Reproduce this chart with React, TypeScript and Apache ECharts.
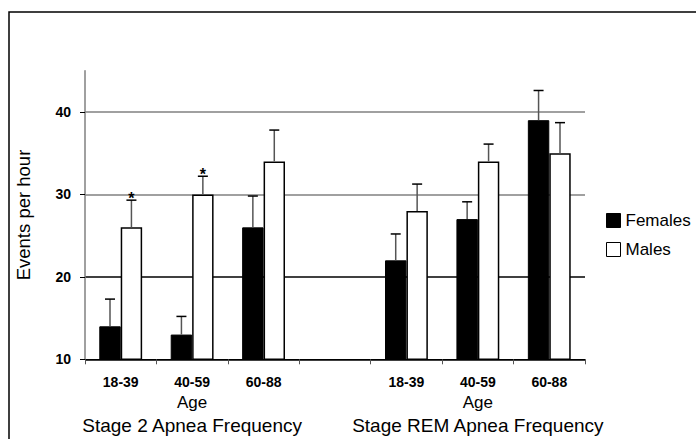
import React, { useEffect, useRef } from "react";
import * as echarts from "echarts";

const categories = ["18-39", "40-59", "60-88", "", "18-39", "40-59", "60-88"];
const femaleValues = [14, 13, 26, null, 22, 27, 39];
const femaleErrors = [3.3, 2.2, 3.8, null, 3.2, 2.1, 3.6];
const maleValues = [26, 30, 34, null, 28, 34, 35];
const maleErrors = [3.3, 2.2, 3.8, null, 3.25, 2.1, 3.7];
const maleStars = ["*", "*", "", "", "", "", ""];
const femaleStars = ["", "", "", "", "", "", ""];
const groupTitles: Record<number, string> = { 1: "Stage 2 Apnea Frequency", 5: "Stage REM Apnea Frequency" };
const axisTitle = "Age";
const yTicks = [10, 20, 30, 40];

const FONT = "'Liberation Sans', Arial, Helvetica, sans-serif";

function errorSeries(name: string, values: (number | null)[], errs: (number | null)[], stars: string[], sign: number) {
  const data: number[][] = [];
  values.forEach((v, i) => {
    if (v != null && errs[i] != null) data.push([i, v, errs[i] as number]);
  });
  return {
    type: "custom",
    name,
    data,
    z: 5,
    silent: true,
    encode: { x: 0, y: 1 },
    renderItem: (params: any, api: any) => {
      const i = api.value(0);
      const v = api.value(1);
      const e = api.value(2);
      const base = api.coord([i, v]);
      const top = api.coord([i, v + e]);
      const band = api.size([1, 0])[0];
      const x = base[0] + sign * band * 0.15;
      const star = stars[i];
      const children: any[] = [
        { type: "line", shape: { x1: x, y1: base[1], x2: x, y2: top[1] }, style: { stroke: "#555", lineWidth: 1.5 } },
        { type: "line", shape: { x1: x - 5, y1: top[1], x2: x + 5, y2: top[1] }, style: { stroke: "#000", lineWidth: 1.5 } },
      ];
      if (star) {
        children.push({
          type: "text",
          style: { text: star, x, y: top[1] - 2, align: "center", verticalAlign: "middle", fontSize: 16, fontWeight: "bold", fontFamily: FONT, fill: "#000" },
        });
      }
      return { type: "group", children };
    },
  };
}

export default function App() {
  const ref = useRef<HTMLDivElement>(null);
  useEffect(() => {
    if (!ref.current) return;
    const chart = echarts.init(ref.current, null, { renderer: "svg" });
    chart.setOption({
      animation: false,
      backgroundColor: "#fff",
      textStyle: { fontFamily: FONT },
      grid: { left: 85, right: 111, top: 70.7, bottom: 79.7, containLabel: false },
      legend: {
        data: ["Females", "Males"],
        orient: "vertical",
        left: 606,
        top: 212,
        padding: 0,
        itemWidth: 14,
        itemHeight: 14,
        itemGap: 12,
        itemStyle: { borderWidth: 1 },
        icon: "rect",
        textStyle: { fontSize: 17, color: "#000", fontFamily: FONT },
      },
      graphic: [
        {
          type: "rect",
          shape: { x: 9, y: 12, width: 1000, height: 1000 },
          style: { fill: "none", stroke: "#000", lineWidth: 1.5 },
          silent: true,
        },
      ],
      xAxis: {
        type: "category",
        data: categories,
        boundaryGap: true,
        axisLine: { lineStyle: { color: "#000", width: 1 } },
        axisTick: { show: true, length: 5, lineStyle: { color: "#555" } },
        axisLabel: {
          interval: 0,
          margin: 14,
          color: "#000",
          formatter: (value: string, index: number) => {
            if (groupTitles[index]) return `{t|${value}}\n{a|${axisTitle}}\n{g|${groupTitles[index]}}`;
            return `{t|${value}}`;
          },
          rich: {
            t: { fontSize: 14, fontWeight: "bold", lineHeight: 18, fontFamily: FONT, color: "#000" },
            a: { fontSize: 17, lineHeight: 23, fontFamily: FONT, color: "#000" },
            g: { fontSize: 19, lineHeight: 23, fontFamily: FONT, color: "#000" },
          },
        },
        splitLine: { show: false },
      },
      yAxis: {
        type: "value",
        min: 10,
        max: 45,
        interval: 10,
        name: "Events per hour",
        nameLocation: "middle",
        nameGap: 52,
        nameRotate: 90,
        nameTextStyle: { fontSize: 18.5, color: "#000", fontFamily: FONT },
        axisLine: { show: true, lineStyle: { color: "#808080", width: 1.5 } },
        axisTick: { show: true, length: 5, customValues: yTicks, lineStyle: { color: "#000" } },
        axisLabel: {
          margin: 14,
          customValues: yTicks,
          fontSize: 14,
          fontWeight: "bold",
          color: "#000",
          fontFamily: FONT,
        },
        splitLine: {
          show: true,
          lineStyle: { color: ["#000", "#000", "#808080", "#808080"], width: 1.5 },
        },
      },
      series: [
        {
          type: "bar",
          name: "Females",
          data: femaleValues,
          barWidth: "30%",
          barGap: "0%",
          itemStyle: { color: "#000", borderColor: "#000", borderWidth: 1 },
          z: 3,
        },
        {
          type: "bar",
          name: "Males",
          data: maleValues,
          barWidth: "30%",
          barGap: "0%",
          itemStyle: { color: "#fff", borderColor: "#000", borderWidth: 1.5 },
          z: 3,
        },
        errorSeries("Females err", femaleValues, femaleErrors, femaleStars, -1),
        errorSeries("Males err", maleValues, maleErrors, maleStars, 1),
      ],
    });
    return () => chart.dispose();
  }, []);
  return <div ref={ref} style={{ width: 696, height: 439, position: "absolute", left: 0, top: 0 }} />;
}
